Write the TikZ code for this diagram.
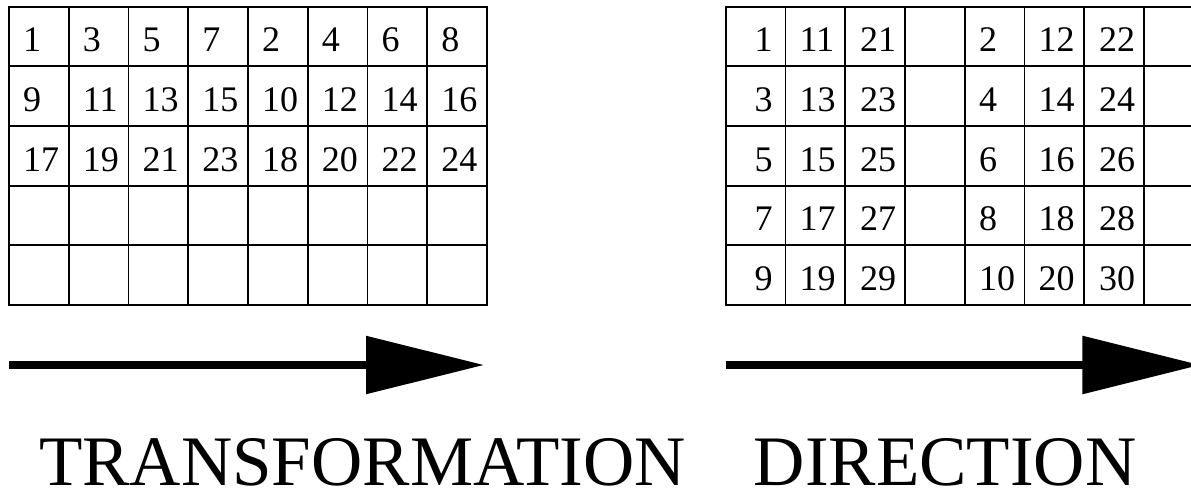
\documentclass[tikz,border=0pt]{standalone}
\usepackage{fontspec}
\setmainfont{Liberation Serif}
\begin{document}
\begin{tikzpicture}[x=1pt,y=-1pt,
  grid/.style={line width=1.8pt, line cap=rect},
  num/.style={anchor=base west, inner sep=0pt, font=\fontsize{36}{40}\selectfont},
  captxt/.style={anchor=base west, inner sep=0pt, font=\fontsize{71}{80}\selectfont},
  shaft/.style={line width=8.7pt},
  head/.style={fill=black}]
\useasboundingbox (0,0) rectangle (1191,489);
\clip (0,0) rectangle (1191,489);
% left grid
\foreach \i in {0,...,8} \draw[grid] ({9+59.75*\i},6.7) -- ({9+59.75*\i},305);
\foreach \j in {0,...,5} \draw[grid] (9,{6.7+59.66*\j}) -- (487,{6.7+59.66*\j});
% right grid
\foreach \i in {0,...,8} \draw[grid] ({725.7+59.75*\i},6.7) -- ({725.7+59.75*\i},305);
\foreach \j in {0,...,5} \draw[grid] (725.7,{6.7+59.66*\j}) -- (1210,{6.7+59.66*\j});
% left numbers
\foreach [count=\j from 0] \row in {{1,3,5,7,2,4,6,8},{9,11,13,15,10,12,14,16},{17,19,21,23,18,20,22,24}} {
  \foreach [count=\i from 0] \v in \row {
    \node[num] (L-\j-\i) at ({23+59.75*\i},{52+59.6*\j}) {\v};
  }
}
% right numbers
\foreach \j in {0,...,4} {
  \foreach \x/\off/\k in {754.5/1/a, 799.3/11/b, 860/21/c, 979/2/d, 1038.5/12/e, 1099/22/f} {
    \pgfmathtruncatemacro\v{2*\j+\off}
    \node[num] (R-\j-\k) at (\x,{52+59.6*\j}) {\v};
  }
}
% arrows
\coordinate (a1s) at (9.3,365);
\coordinate (a1e) at (370,365);
\coordinate (a1t) at (483.3,365);
\coordinate (a1u) at (366,335.7);
\coordinate (a1d) at (366,394.3);
\draw[shaft] (a1s) -- (a1e);
\fill[head] (a1u) -- (a1t) -- (a1d) -- cycle;
\coordinate (a2s) at (726,365);
\coordinate (a2e) at (1086,365);
\coordinate (a2t) at (1199.6,365);
\coordinate (a2u) at (1082.3,335.7);
\coordinate (a2d) at (1082.3,394.3);
\draw[shaft] (a2s) -- (a2e);
\fill[head] (a2u) -- (a2t) -- (a2d) -- cycle;
% caption
\node[captxt] (t1) at (39,485) {TRANSFORMATION};
\node[captxt] (t2) at (753.7,485) {DIRECTION};
\end{tikzpicture}
\end{document}
